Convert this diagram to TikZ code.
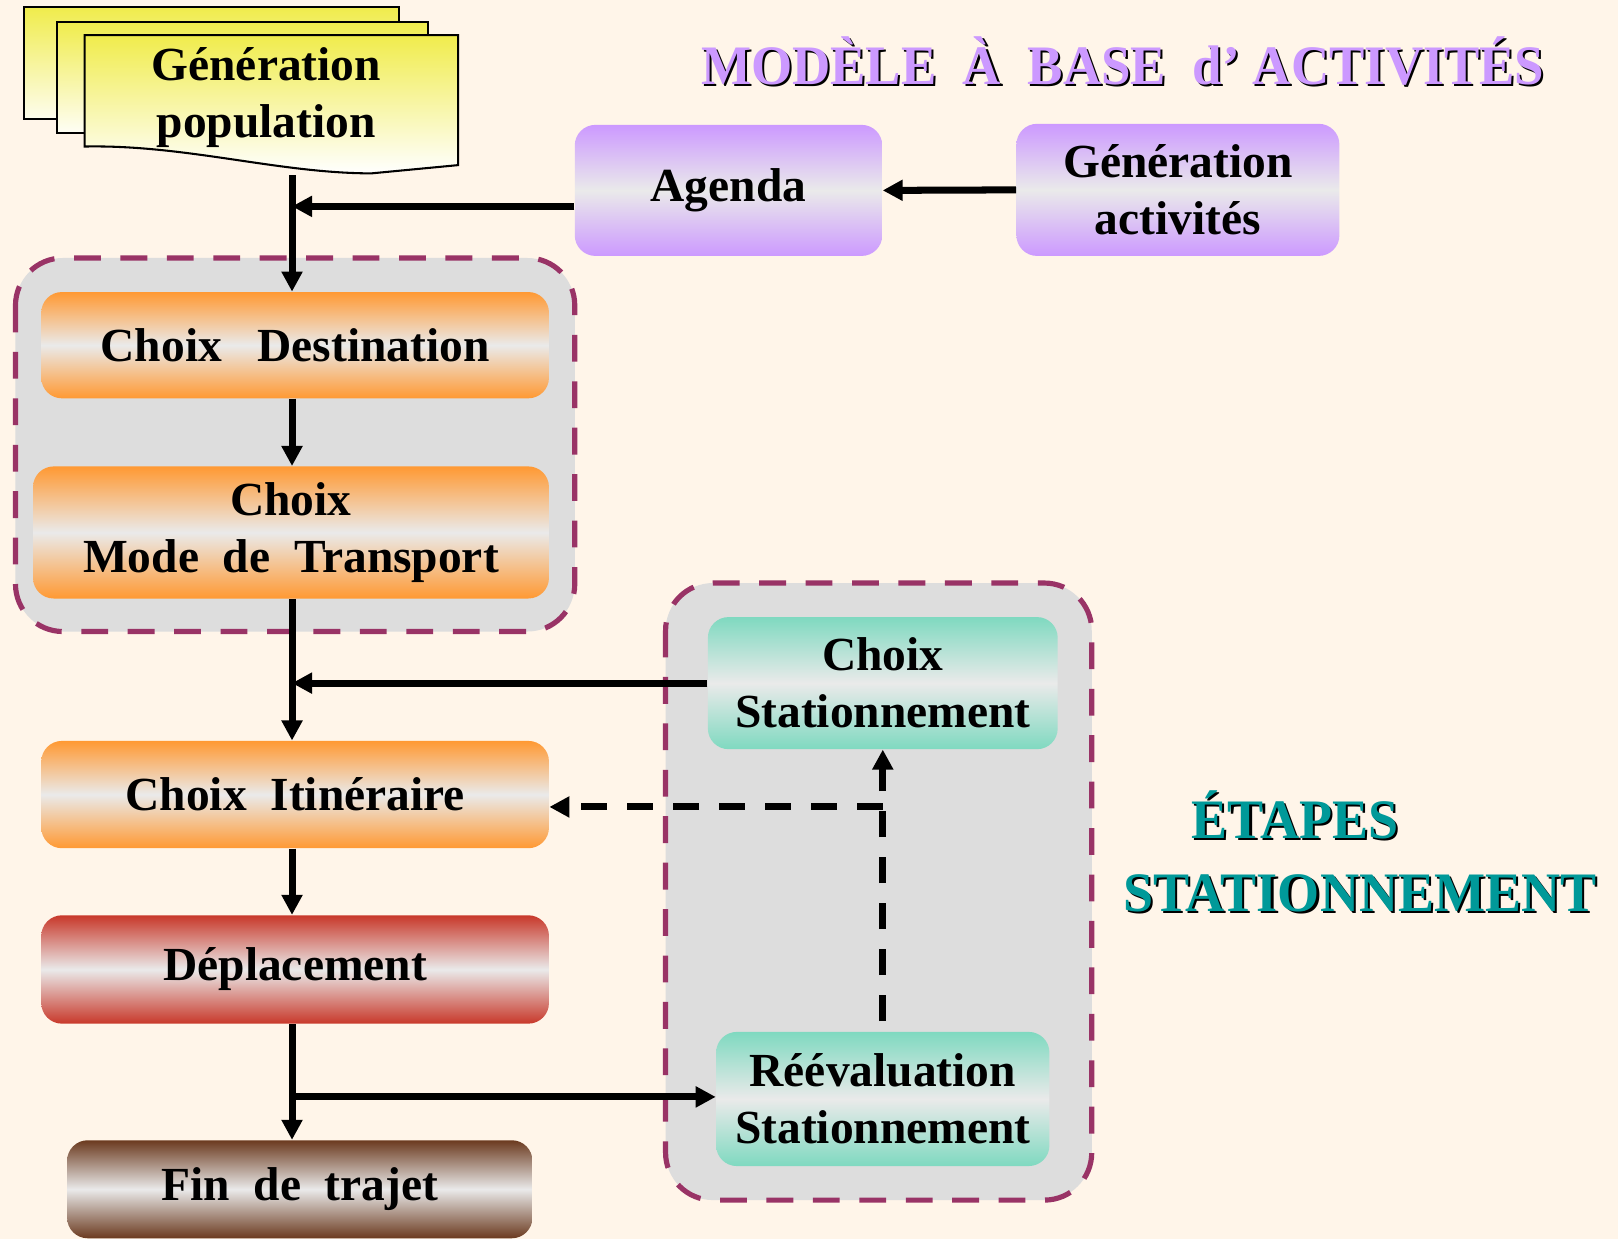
\documentclass[tikz,border=0pt]{standalone}
\usepackage{fontspec}
\setmainfont{Liberation Serif}
\usetikzlibrary{arrows.meta}
\definecolor{bgcream}{HTML}{FFF5E9}
\definecolor{lilac}{HTML}{CC99FF}
\definecolor{mango}{HTML}{FF9933}
\definecolor{brick}{HTML}{C8382A}
\definecolor{cocoa}{HTML}{6B3A1F}
\definecolor{mint}{HTML}{7FD9C0}
\definecolor{lemon}{HTML}{F0EC4C}
\definecolor{greybox}{HTML}{DDDDDD}
\definecolor{plum}{HTML}{993366}
\definecolor{tealtxt}{HTML}{009999}
\definecolor{mist}{HTML}{EAEAEA}
\begin{document}
\begin{tikzpicture}[x=0.5pt,y=-0.5pt,
    box/.style={rounded corners=10pt, inner sep=0pt, align=center,
      font=\bfseries\fontsize{23}{27.6}\selectfont},
    lilacbox/.style={box, top color=lilac, bottom color=lilac, middle color=mist},
    mangobox/.style={box, top color=mango, bottom color=mango, middle color=mist},
    mintbox/.style={box, top color=mint, bottom color=mint, middle color=mist},
    grp/.style={draw=plum, fill=greybox, line width=2.5pt, rounded corners=23pt,
      dash pattern=on 13pt off 9.5pt},
    arr/.style={line width=3.4pt, -{Triangle[length=9.7pt,width=9.7pt]}},
    darr/.style={arr, dash pattern=on 12.6pt off 9.7pt},
    bigtxt/.style={font=\bfseries\fontsize{27}{32}\selectfont, inner sep=0pt, xscale=0.97}]
  \fill[bgcream] (0,0) rectangle (1568,1201);
  \useasboundingbox (0,0) rectangle (1568,1201);

  % titles with shadow
  \node[bigtxt, xscale=0.98, black] (title-s) at (1090,61) {MODÈLE~~À~~BASE~~d’~ACTIVITÉS};
  \node[bigtxt, xscale=0.98, lilac] (title) at (1088,59) {MODÈLE~~À~~BASE~~d’~ACTIVITÉS};
  \node[bigtxt, black] (etapes-s) at (1257,792) {ÉTAPES};
  \node[bigtxt, tealtxt] (etapes) at (1255,790) {ÉTAPES};
  \node[bigtxt, black] (statio-s) at (1320,868) {STATIONNEMENT};
  \node[bigtxt, tealtxt] (statio) at (1318,866) {STATIONNEMENT};

  % population document stack
  \draw[line width=1pt, top color=lemon, bottom color=white!90!lemon] (23,7) rectangle (387,115);
  \draw[line width=1pt, top color=lemon, bottom color=white!95!lemon] (55,21) rectangle (415,129);
  \draw[line width=1pt, top color=lemon, bottom color=white] (82,34) -- (444,34) -- (444,160)
    -- (360,168) .. controls (270,168) and (180,140) .. (82,142) -- cycle;
  \node[box] (pop) at (258,95) {Génération\\population};
  \coordinate (popout) at (283,170);

  % groups
  \draw[grp] (15,250) rectangle (557,612);
  \draw[grp] (645,565) rectangle (1058,1163);

  % boxes
  \node[lilacbox, minimum width=149pt, minimum height=63.5pt] (agenda) at (706,184.5) {Agenda};
  \node[lilacbox, minimum width=156.5pt, minimum height=64pt] (genact) at (1141.5,184) {Génération\\activités};
  \node[mangobox, minimum width=246pt, minimum height=51.5pt] (dest) at (286,334.5) {Choix~~~Destination};
  \node[mangobox, minimum width=250pt, minimum height=64pt] (mode) at (282,516) {Choix\\Mode~~de~~Transport};
  \node[mangobox, minimum width=246pt, minimum height=52pt] (itin) at (286,770) {Choix~~Itinéraire};
  \node[box, top color=brick, bottom color=brick, middle color=mist,
    minimum width=246pt, minimum height=52.5pt] (depl) at (286,939.5) {Déplacement};
  \node[box, top color=cocoa, bottom color=cocoa, middle color=mist,
    minimum width=225.5pt, minimum height=47.5pt] (fin) at (290.5,1152.5) {Fin~~de~~trajet};
  \node[mintbox, minimum width=169.5pt, minimum height=64pt] (cstat) at (855.5,662) {Choix\\Stationnement};
  \node[mintbox, minimum width=161.5pt, minimum height=65pt] (reeval) at (855.5,1065) {Réévaluation\\Stationnement};

  % connectors
  \coordinate (j1) at (283,200);
  \coordinate (j2) at (855.5,782);
  \coordinate (j3) at (283,1063);
  \draw[arr] (genact.west) -- (agenda.east);
  \draw[arr] (agenda.west |- j1) -- (j1);
  \draw[arr] (popout) -- (popout |- dest.north);
  \draw[arr] (dest.south -| popout) -- (mode.north -| popout);
  \draw[arr] (mode.south -| popout) -- (itin.north -| popout);
  \draw[arr] (cstat.west) -- (cstat.west -| popout);
  \draw[arr] (itin.south -| popout) -- (depl.north -| popout);
  \draw[arr] (depl.south -| popout) -- (fin.north -| popout);
  \draw[arr] (j3) -- (reeval.west |- j3);
  \draw[darr, shorten <=5pt] (reeval.north) -- (cstat.south);
  \draw[darr] (j2) -- (itin.east |- j2);
\end{tikzpicture}
\end{document}
